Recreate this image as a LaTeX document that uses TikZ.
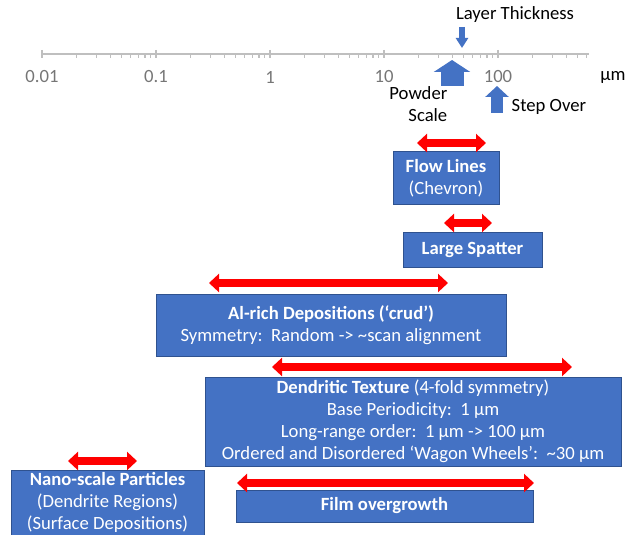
\documentclass[tikz,border=0pt]{standalone}
\usepackage{fontspec}
\setmainfont{Carlito}
\usetikzlibrary{arrows.meta}
\definecolor{boxblue}{HTML}{4472C4}
\definecolor{boxedge}{HTML}{2F528F}
\definecolor{axisgray}{HTML}{BFBFBF}
\definecolor{labelgray}{HTML}{767676}
\definecolor{rangered}{HTML}{FF0000}
\tikzset{
    phase/.style 2 args={draw=boxedge,line width=.75pt,fill=boxblue,text=white,align=center,
        inner sep=0pt,minimum width=#1*.75pt,minimum height=#2*.75pt},
    sizerange/.style={draw=rangered,line width=6pt,
        {Triangle[length=7.5pt,width=13.5pt]}-{Triangle[length=7.5pt,width=13.5pt]}},
    pointer/.style={draw=boxblue}
}
\begin{document}
\begin{tikzpicture}[x=.75pt,y=-.75pt,font=\fontsize{14}{16.5}\selectfont]
            \useasboundingbox (0,0) rectangle (629,535);
            % log axis, one decade = 114
            \draw[axisgray,line width=1.1pt] (42,54) coordinate (axl) -- (589,54) coordinate (axr);
            \foreach \d/\lab [count=\i] in {-2/0.01,-1/0.1,0/1,1/10,2/100}{
                \draw[axisgray,line width=1.1pt] (270+114*\d,50) -- (270+114*\d,58);
                \node[text=labelgray] at (270+114*\d,77)(tick\i){\lab};
                \foreach \m in {2,...,9}{
                    \pgfmathsetmacro\xm{270+114*(\d+log10(\m))}
                    \ifdim\xm pt<589pt \draw[axisgray,line width=.9pt] (\xm,54) -- (\xm,58);\fi
                }
            }
            \node at (613,77)(unit){µm};
            % markers on the axis
            \node at (515,15)(layer){Layer Thickness};
            \node[anchor=east,align=right] at (452,104.5)(powder){Powder\\Scale};
            \node[anchor=west] at (507,107)(stepover){Step Over};
            \coordinate (layertop) at (462,27);
            \coordinate (layertip) at (462,48);
            \coordinate (powderfoot) at (452,86);
            \coordinate (powdertip) at (452,60);
            \coordinate (stepfoot) at (497,113);
            \coordinate (steptip) at (497,86);
            \path[pointer,line width=4.5pt,-{Triangle[length=7.5pt,width=9pt]}] (layertop) -- (layertip);
            \path[pointer,line width=17.25pt,-{Triangle[length=9pt,width=27pt]}] (powderfoot) -- (powdertip);
            \path[pointer,line width=9pt,-{Triangle[length=8.25pt,width=17.25pt]}] (stepfoot) -- (steptip);
            % features
            \node[phase={106}{52}] at (446,178)(flow){\bfseries Flow Lines\\(Chevron)};
            \node[phase={139}{35}] at (472.5,249.5)(spatter){\bfseries Large Spatter};
            \node[phase={350}{62}] at (331,325)(crud){{\bfseries Al-rich Depositions (‘crud’)}\\Symmetry:\ \ Random -> \textasciitilde scan alignment};
            \node[phase={416}{89}] at (413,421.5)(dendrite){{\bfseries Dendritic Texture} (4-fold symmetry)\\Base Periodicity:\ \ 1 µm\\Long-range order:\ \ 1 µm -> 100 µm\\Ordered and Disordered ‘Wagon Wheels’:\ \ \textasciitilde 30 µm};
            \node[phase={193}{65}] at (107.5,502.5)(nano){{\bfseries Nano-scale Particles}\\(Dendrite Regions)\\(Surface Depositions)};
            \node[phase={297}{32}] at (384.5,506)(film){\bfseries Film overgrowth};
            % size ranges
            \foreach \nm/\lo/\hi/\y in {flow/417/486/143,spatter/444/492/223,crud/209/448/283,
                    dendrite/272/572/367,nano/68/137/461,film/237/534/483}{
                \coordinate (\nm lo) at (\lo,\y);
                \coordinate (\nm hi) at (\hi,\y);
                \path[sizerange] (\nm lo) -- (\nm hi);
            }
\end{tikzpicture}
\end{document}
